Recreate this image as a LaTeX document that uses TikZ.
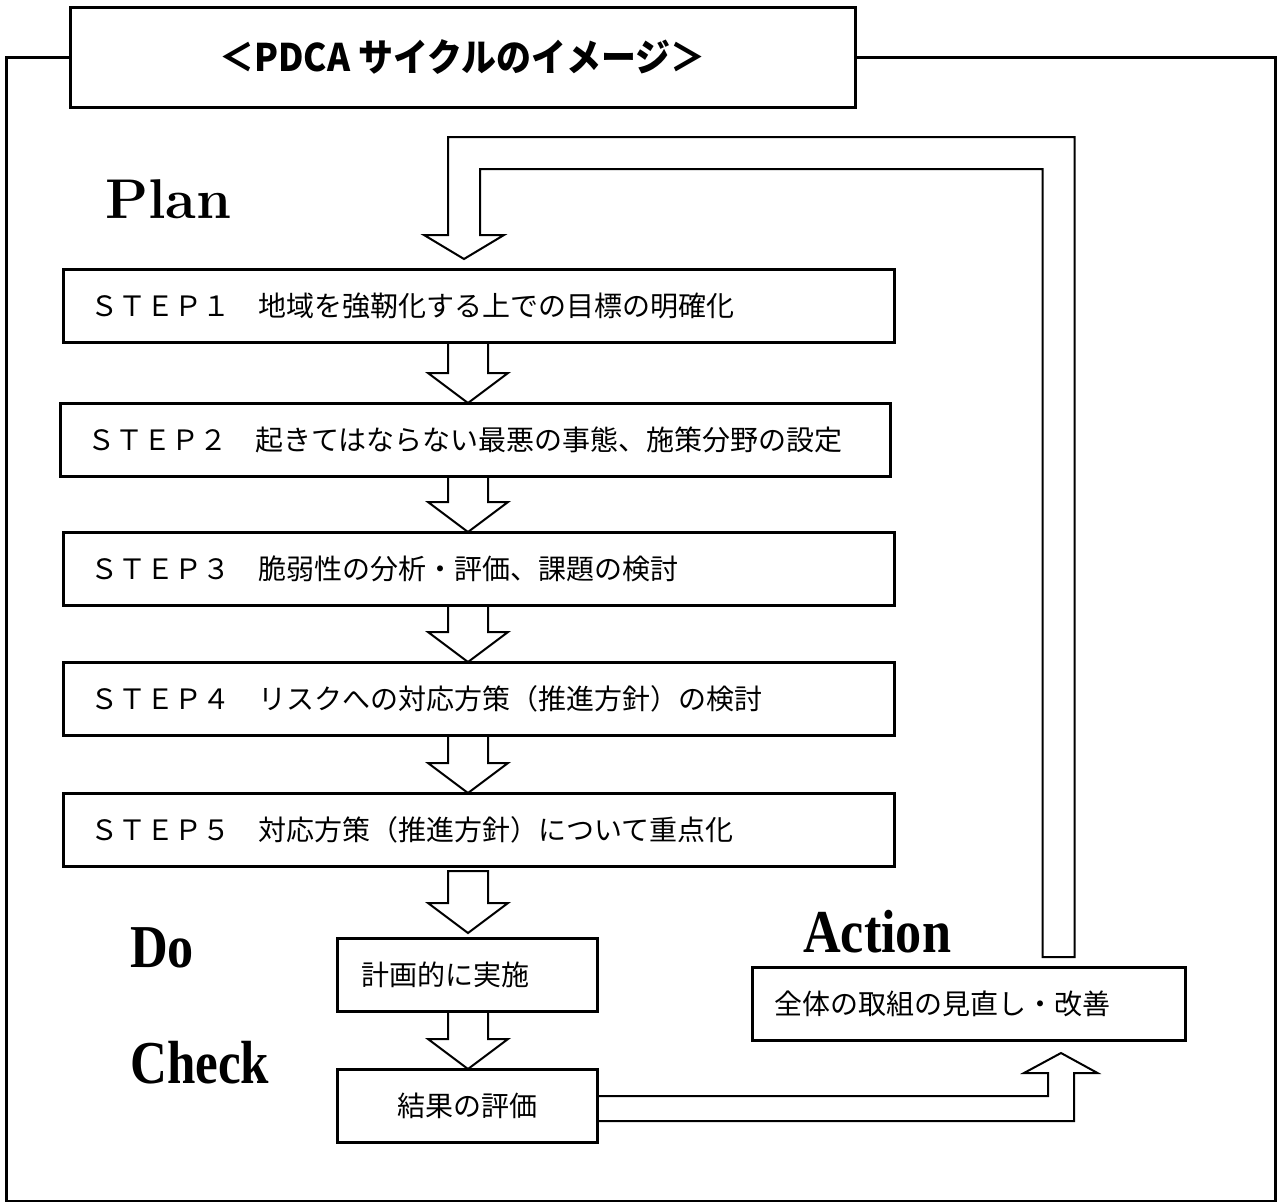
\documentclass[tikz,border=0pt]{standalone}
\usepackage{fontspec}
\usepackage{graphicx}
\newfontfamily\jpfont{Noto Sans CJK JP}
\newfontfamily\labfont{Liberation Serif}
\usetikzlibrary{calc, positioning}
\tikzset{
box/.style={draw, line width=3pt, rectangle, anchor=north west, outer sep=0pt, minimum height=73pt, inner xsep=27pt, inner ysep=0pt, align=left, font={\jpfont\fontsize{28}{32}\selectfont}}, % the STEP boxes
blockarr/.style={draw, line width=2pt, line join=miter}, % hollow block arrows
phase/.style={anchor=base west, inner sep=0pt}, % Plan, Do, Check, Action
frame/.style={line width=3pt}, % outer frame
}
% hollow down arrow from one box to the next, #1 = gap at both ends
\newcommand\downarr[3][0]{%
  \draw[blockarr] ($(ax |- #2.south)+(-20,#1)$) -- ($(ax |- #3.north)+(-20,-30-#1)$) -- ++(-20,0)
    -- ($(ax |- #3.north)+(0,-#1)$) -- ++(40,-30) -- ++(-20,0) -- ($(ax |- #2.south)+(20,#1)$) -- cycle;}

\begin{document}
\begin{tikzpicture}[x=1pt, y=-1pt]
  \useasboundingbox (0,0) rectangle (1277,1202);
  \node[draw, line width=3pt, anchor=north west, outer sep=0pt, minimum width=785pt, minimum height=100pt, font={\jpfont\bfseries\fontsize{38}{40}\selectfont}] (title) at (70,7) {\scalebox{0.92}[1]{＜PDCA サイクルのイメージ＞}};
  \draw[frame] (title.west) -| (6,1201) -| (1275,57) -- (title.east);

  \node[phase, font={\fontsize{56}{60}\selectfont\bfseries}] (plan) at (105,218) {Plan};
  \node[phase, font={\labfont\bfseries\fontsize{58}{60}\selectfont}] (dolab) at (130,967) {\scalebox{0.9}[1.05]{Do}};
  \node[phase, font={\labfont\bfseries\fontsize{58}{60}\selectfont}] (checklab) at (130,1083) {\scalebox{0.88}[1.05]{Check}};
  \node[phase, font={\labfont\bfseries\fontsize{58}{60}\selectfont}] (actlab) at (803,952) {\scalebox{0.9}[1.05]{Action}};

  \node[box, text width=777pt] (s1) at (63,269) {ＳＴＥＰ１　地域を強靭化する上での目標の明確化};
  \node[box, text width=776pt] (s2) at (60,403) {ＳＴＥＰ２　起きてはならない最悪の事態、施策分野の設定};
  \node[box, text width=777pt] (s3) at (63,532) {ＳＴＥＰ３　脆弱性の分析・評価、課題の検討};
  \node[box, text width=777pt] (s4) at (63,662) {ＳＴＥＰ４　リスクへの対応方策（推進方針）の検討};
  \node[box, text width=777pt] (s5) at (63,793) {ＳＴＥＰ５　対応方策（推進方針）について重点化};
  \node[box, text width=212pt, inner xsep=24pt] (do) at (337,938) {計画的に実施};
  \node[box, text width=212pt, inner xsep=24pt, align=center] (chk) at (337,1069) {結果の評価};
  \node[box, text width=389pt, inner xsep=22pt] (act) at (752,967) {全体の取組の見直し・改善};

  \coordinate (ax) at (468,0);
  \downarr{s1}{s2}
  \downarr{s2}{s3}
  \downarr{s3}{s4}
  \downarr{s4}{s5}
  \downarr[5]{s5}{do}
  \downarr{do}{chk}

  % back from Action to STEP1
  \coordinate (rx) at (1058.5,0);
  \coordinate (lx) at (464,0);
  \draw[blockarr] ($(rx |- act.north)+(-16,-10)$) |- (480,169) -- ($(lx |- s1.north)+(16,-34)$) -- ++(24,0)
    -- ($(lx |- s1.north)+(0,-10)$) -- ++(-40,-24) -- ++(24,0) |- (1074.5,137) -- ($(rx |- act.north)+(16,-10)$) -- cycle;

  % from Check up to Action
  \coordinate (ux) at (1061,1108.5);
  \draw[blockarr] ($(chk.east |- ux)+(0,-12.5)$) -| ($(ux |- act.south)+(-13,33)$) -- ++(-24,0)
    -- ($(ux |- act.south)+(0,13)$) -- ++(36.5,20) -- ++(-23.5,0) |- ($(chk.east |- ux)+(0,12.5)$);
\end{tikzpicture}
\end{document}
